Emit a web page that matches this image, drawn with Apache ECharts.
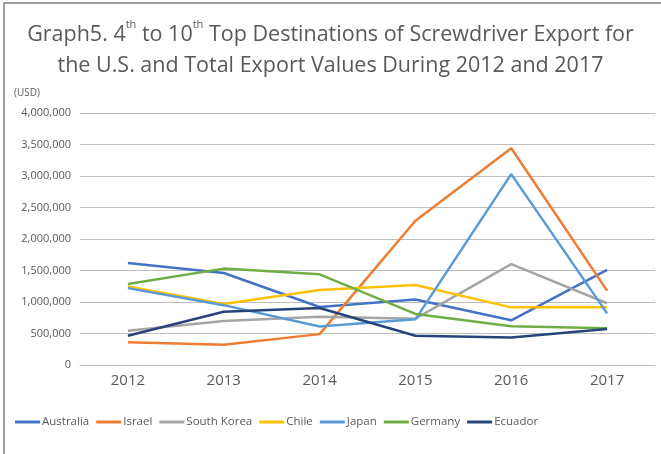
<!DOCTYPE html>
<html>
<head>
<meta charset="utf-8">
<script src="https://cdn.jsdelivr.net/npm/echarts@6/dist/echarts.min.js"></script>
<style>
  html, body { margin: 0; padding: 0; background: #fff; }
  #main { width: 661px; height: 454px; }
</style>
</head>
<body>
<div id="main"></div>
<script>
// years on the category axis
const years = ['2012', '2013', '2014', '2015', '2016', '2017'];

// export values in USD
const australia = [1620000, 1460000, 920000, 1040000, 710000, 1510000];
const israel = [360000, 320000, 490000, 2290000, 3440000, 1180000];
const southKorea = [545000, 700000, 765000, 735000, 1600000, 980000];
const chile = [1245000, 970000, 1190000, 1270000, 915000, 915000];
const japan = [1220000, 950000, 610000, 725000, 3030000, 820000];
const germany = [1285000, 1530000, 1440000, 810000, 615000, 585000];
const ecuador = [465000, 845000, 905000, 465000, 435000, 570000];

const names = ['Australia', 'Israel', 'South Korea', 'Chile', 'Japan', 'Germany', 'Ecuador'];
const values = [australia, israel, southKorea, chile, japan, germany, ecuador];
const colors = ['#4472C4', '#ED7D31', '#A5A5A5', '#FFC000', '#5B9BD5', '#70AD47', '#264478'];

const font = '"Open Sans", sans-serif';

const seriesList = names.map(function (name, i) {
    return {
        type: 'line',
        name: name,
        data: values[i],
        showSymbol: false,
        symbol: 'none',
        lineStyle: { width: 2.5, color: colors[i] },
        itemStyle: { color: colors[i] }
    };
});

const option = {
    animation: false,
    color: colors,
    title: {
        left: 'center',
        top: 14,
        text: '{a|Graph5. 4}{s|th}{a| to 10}{s|th}{a| Top Destinations of Screwdriver Export for}\n{a|the U.S. and Total Export Values During 2012 and 2017}',
        textStyle: {
            fontWeight: 'normal',
            rich: {
                a: { fontFamily: font, fontSize: 21.5, fontWeight: 'normal', color: '#595959', lineHeight: 31 },
                s: { fontFamily: font, fontSize: 11, fontWeight: 'normal', color: '#595959', verticalAlign: 'top', lineHeight: 20 }
            }
        }
    },
    graphic: [
        {
            type: 'rect',
            shape: { x: 4, y: 3, width: 700, height: 500 },
            style: { fill: 'none', stroke: '#808080', lineWidth: 1.5 }
        },
        {
            type: 'text',
            left: 14,
            top: 88,
            style: { text: '(USD)', fontFamily: font, fontSize: 10, fill: '#595959' }
        }
    ],
    legend: {
        bottom: 21,
        left: 10,
        itemWidth: 25,
        itemHeight: 3,
        itemGap: 7,
        icon: 'rect',
        textStyle: { fontFamily: font, fontSize: 11.5, color: '#595959', padding: [0, 0, 0, -3] },
        data: names
    },
    grid: { left: 80, right: 6, top: 113, bottom: 89 },
    xAxis: {
        type: 'category',
        data: years,
        axisTick: { show: false },
        axisLine: { show: true, lineStyle: { color: '#BFBFBF' } },
        axisLabel: { fontFamily: font, fontSize: 15, color: '#595959', margin: 8 }
    },
    yAxis: {
        type: 'value',
        min: 0,
        max: 4000000,
        interval: 500000,
        axisLabel: {
            fontFamily: font,
            fontSize: 11,
            color: '#595959',
            margin: 9,
            formatter: function (v) { return v.toLocaleString('en-US'); }
        },
        splitLine: { lineStyle: { color: '#BFBFBF' } }
    },
    series: seriesList
};

const myChart = echarts.init(document.getElementById('main'));
myChart.setOption(option);
</script>
</body>
</html>
